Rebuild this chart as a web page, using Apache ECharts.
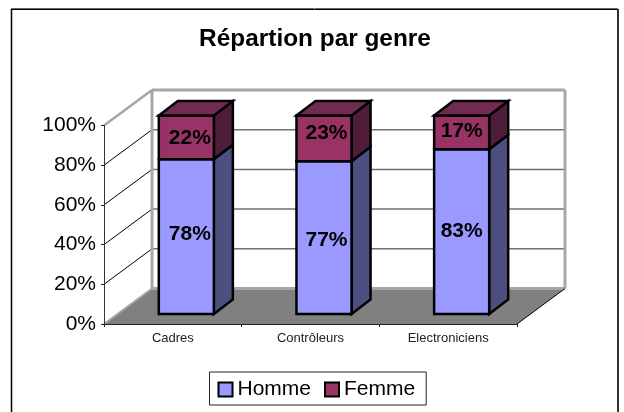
<!DOCTYPE html>
<html>
<head>
<meta charset="utf-8">
<style>
html,body{margin:0;padding:0;background:#fff;}
#chart{width:624px;height:412px;}
</style>
<script src="https://cdn.jsdelivr.net/npm/echarts@6/dist/echarts.min.js"></script>
</head>
<body>
<div id="chart"></div>
<script>
const categories = ['Cadres', 'Contrôleurs', 'Electroniciens'];
const hommeValues = [78, 77, 83];
const femmeValues = [22, 23, 17];
const yTicks = [0, 20, 40, 60, 80, 100];

const FONT = '"Liberation Sans", Arial, sans-serif';
// fausse 3D : décalage du mur du fond, du plan des barres et profondeur des barres
const WALL_DX = 48, WALL_DY = -35.5;
const PLANE_DX = 13.5, PLANE_DY = -10;
const BAR_DX = 19, BAR_DY = -14.5;
const BAR_RATIO = 0.4;
// petits écarts des étiquettes par rapport au centre des barres
const labelShiftX = [3.5, 2.5, 0];
const hommeShiftY = [-2, 3, 0];
const femmeShiftY = [1, -5, -1];

function poly(points, fill) {
  return {
    type: 'polygon',
    shape: { points: points },
    style: { fill: fill, stroke: '#000', lineWidth: 2.5, lineJoin: 'miter' }
  };
}

function wallLine(x1, y1, x2, y2, color, width) {
  return {
    type: 'line',
    shape: { x1: x1, y1: y1, x2: x2, y2: y2 },
    style: { stroke: color, lineWidth: width, fill: null }
  };
}

function renderWalls(params, api) {
  const sys = params.coordSys;
  const value = api.value(1);
  const y = api.coord([0, value])[1];
  const left = sys.x, right = sys.x + sys.width;
  const children = [];
  if (value === 0) {
    children.push({
      type: 'polygon',
      shape: { points: [[left, y], [right, y], [right + WALL_DX, y + WALL_DY], [left + WALL_DX, y + WALL_DY]] },
      style: { fill: '#808080' }
    });
    children.push(wallLine(left, y, left + WALL_DX, y + WALL_DY, '#a6a6a6', 2));
    children.push(wallLine(left + WALL_DX, y + WALL_DY, right + WALL_DX, y + WALL_DY, '#a6a6a6', 3));
    children.push(wallLine(right, y, right + WALL_DX, y + WALL_DY, '#000', 1));
  } else if (value === 100) {
    children.push(wallLine(left, y, left + WALL_DX, y + WALL_DY, '#a6a6a6', 2.5));
    children.push(wallLine(left + WALL_DX, y + WALL_DY, right + WALL_DX, y + WALL_DY, '#a6a6a6', 3));
    const bottom = sys.y + sys.height + WALL_DY;
    children.push(wallLine(left + WALL_DX, y + WALL_DY, left + WALL_DX, bottom, '#a6a6a6', 3));
    children.push(wallLine(right + WALL_DX, y + WALL_DY, right + WALL_DX, bottom, '#a6a6a6', 3));
  } else {
    children.push(wallLine(left, y, left + WALL_DX, y + WALL_DY, '#000', 1));
    children.push(wallLine(left + WALL_DX, y + WALL_DY, right + WALL_DX, y + WALL_DY, '#707070', 1.5));
  }
  return { type: 'group', children: children };
}

function barRenderer(front, side, top, drawTop, shiftY) {
  return function (params, api) {
    const idx = api.value(0);
    const start = api.coord([idx, api.value(1)]);
    const end = api.coord([idx, api.value(2)]);
    const half = api.size([1, 0])[0] * BAR_RATIO / 2;
    const x1 = start[0] + PLANE_DX - half;
    const x2 = start[0] + PLANE_DX + half;
    const y1 = start[1] + PLANE_DY;
    const y2 = end[1] + PLANE_DY;
    const children = [
      poly([[x2, y1], [x2 + BAR_DX, y1 + BAR_DY], [x2 + BAR_DX, y2 + BAR_DY], [x2, y2]], side),
      poly([[x1, y1], [x2, y1], [x2, y2], [x1, y2]], front)
    ];
    if (drawTop) {
      children.push(poly([[x1, y2], [x2, y2], [x2 + BAR_DX, y2 + BAR_DY], [x1 + BAR_DX, y2 + BAR_DY]], top));
    }
    children.push({
      type: 'text',
      style: {
        text: (api.value(2) - api.value(1)) + '%',
        x: start[0] + PLANE_DX + labelShiftX[idx],
        y: (y1 + y2) / 2 + shiftY[idx],
        align: 'center',
        verticalAlign: 'middle',
        fill: '#000',
        font: 'bold 21px ' + FONT
      }
    });
    return { type: 'group', children: children };
  };
}

const chart = echarts.init(document.getElementById('chart'), null, { renderer: 'canvas' });

chart.setOption({
  animation: false,
  backgroundColor: '#fff',
  title: {
    text: 'Répartion par genre',
    left: 310,
    top: 22,
    textAlign: 'center',
    textStyle: { fontFamily: FONT, fontWeight: 'bold', fontSize: 24.4, color: '#000' }
  },
  legend: {
    data: ['Homme', 'Femme'],
    left: 209.5,
    top: 372,
    width: 216,
    padding: [7, 11, 5, 8],
    itemGap: 13,
    itemWidth: 14,
    itemHeight: 14,
    icon: 'rect',
    borderColor: '#222',
    borderWidth: 1,
    itemStyle: { borderColor: '#000', borderWidth: 2 },
    textStyle: { fontFamily: FONT, fontSize: 21, color: '#000' }
  },
  grid: { left: 104, right: 107, top: 125.5, bottom: 88, containLabel: false },
  xAxis: {
    type: 'category',
    data: categories,
    z: 3,
    axisLine: { lineStyle: { color: '#222', width: 1 } },
    axisTick: { show: true, length: 3, alignWithLabel: false, lineStyle: { color: '#222' } },
    axisLabel: { interval: 0, margin: 8, fontFamily: FONT, fontSize: 13, color: '#222' },
    splitLine: { show: false }
  },
  yAxis: {
    type: 'value',
    min: 0,
    max: 100,
    interval: 20,
    z: 3,
    axisLine: { show: true, lineStyle: { color: '#333', width: 1 } },
    axisTick: { show: true, length: 3, lineStyle: { color: '#222' } },
    axisLabel: { formatter: '{value}%', margin: 8, padding: [2, 0, 0, 0], fontFamily: FONT, fontSize: 21, color: '#000' },
    splitLine: { show: false }
  },
  graphic: [
    { type: 'line', silent: true, shape: { x1: 11, y1: 8.5, x2: 618, y2: 8.5 }, style: { stroke: '#6a6a6a', lineWidth: 1 } },
    { type: 'line', silent: true, shape: { x1: 11, y1: 9.5, x2: 618, y2: 9.5 }, style: { stroke: '#000', lineWidth: 1 } },
    { type: 'line', silent: true, shape: { x1: 11.5, y1: 9, x2: 11.5, y2: 412 }, style: { stroke: '#000', lineWidth: 1.5 } },
    { type: 'line', silent: true, shape: { x1: 618, y1: 9, x2: 618, y2: 412 }, style: { stroke: '#333', lineWidth: 2 } }
  ],
  series: [
    {
      name: 'Parois',
      type: 'custom',
      z: 1,
      silent: true,
      clip: false,
      encode: { x: 0, y: 1 },
      data: yTicks.map(v => [0, v]),
      renderItem: renderWalls
    },
    {
      name: 'Homme',
      type: 'custom',
      z: 4,
      clip: false,
      itemStyle: { color: '#9999ff' },
      encode: { x: 0, y: 2 },
      data: hommeValues.map((v, i) => [i, 0, v]),
      renderItem: barRenderer('#9999ff', '#4d4f80', '#4d4f80', false, hommeShiftY)
    },
    {
      name: 'Femme',
      type: 'custom',
      z: 5,
      clip: false,
      itemStyle: { color: '#993366' },
      encode: { x: 0, y: 2 },
      data: femmeValues.map((v, i) => [i, hommeValues[i], hommeValues[i] + v]),
      renderItem: barRenderer('#993366', '#4f1c3a', '#722a52', true, femmeShiftY)
    }
  ]
});
</script>
</body>
</html>
